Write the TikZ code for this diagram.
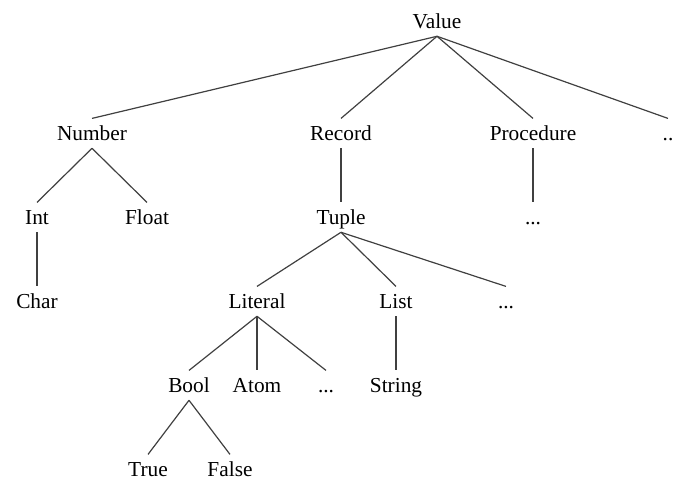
\documentclass[tikz,border=0pt]{standalone}
\usepackage{fontspec}
\setmainfont{Liberation Serif}
\begin{document}
\begin{tikzpicture}[
  x=0.75pt, y=-0.75pt,
  typenode/.style={anchor=base, inner xsep=0pt, inner ysep=4pt,
    text height=12pt, text depth=2pt,
    font=\fontsize{16}{19}\selectfont},
  edge/.style={draw=black!75, line width=0.9pt}
]
\useasboundingbox (0,0) rectangle (673,480);

% level 0
\node[typenode] (value) at (437,28) {Value};
% level 1
\node[typenode] (number) at (92,140) {Number};
\node[typenode] (record) at (341,140) {Record};
\node[typenode] (procedure) at (533,140) {Procedure};
\node[typenode] (more1) at (668,140) {..};
% level 2
\node[typenode] (int) at (37,224) {Int};
\node[typenode] (float) at (147,224) {Float};
\node[typenode] (tuple) at (341,224) {Tuple};
\node[typenode] (more2) at (533,224) {...};
% level 3
\node[typenode] (char) at (37,308) {Char};
\node[typenode] (literal) at (257,308) {Literal};
\node[typenode] (list) at (396,308) {List};
\node[typenode] (more3) at (506,308) {...};
% level 4
\node[typenode] (bool) at (189,392) {Bool};
\node[typenode] (atom) at (257,392) {Atom};
\node[typenode] (more4) at (326,392) {...};
\node[typenode] (string) at (396,392) {String};
% level 5
\node[typenode] (true) at (148,476) {True};
\node[typenode] (false) at (230,476) {False};

% tree edges
\foreach \p/\c in {value/number, value/record, value/procedure, value/more1,
                   number/int, number/float, int/char,
                   record/tuple, procedure/more2,
                   tuple/literal, tuple/list, tuple/more3,
                   literal/bool, literal/atom, literal/more4,
                   list/string, bool/true, bool/false}
  \draw[edge] (\p.south) -- (\c.north);
\end{tikzpicture}
\end{document}
